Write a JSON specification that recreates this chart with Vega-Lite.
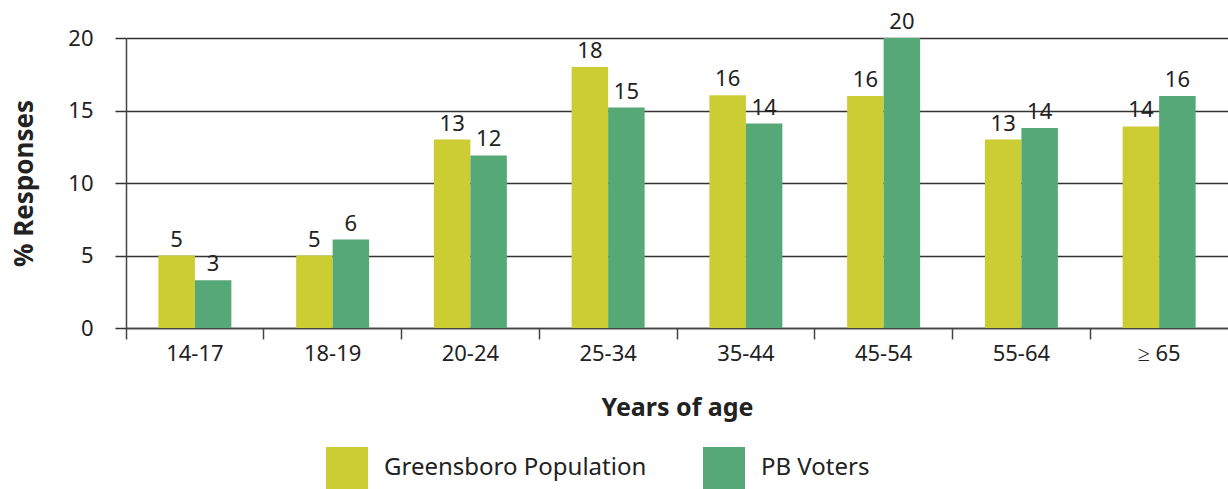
{
  "$schema": "https://vega.github.io/schema/vega-lite/v6.json",
  "autosize": {"type": "none"},
  "padding": {"left": 126, "top": 38, "right": 0, "bottom": 161},
  "width": 1102,
  "height": 290,
  "config": {
    "font": "Noto Sans",
    "view": {"stroke": null}
  },
  "data": {
    "values": [
      {"age": "14-17", "series": "Greensboro Population", "value": 5.0},
      {"age": "14-17", "series": "PB Voters", "value": 3.3},
      {"age": "18-19", "series": "Greensboro Population", "value": 5.0},
      {"age": "18-19", "series": "PB Voters", "value": 6.1},
      {"age": "20-24", "series": "Greensboro Population", "value": 13.0},
      {"age": "20-24", "series": "PB Voters", "value": 11.9},
      {"age": "25-34", "series": "Greensboro Population", "value": 18.0},
      {"age": "25-34", "series": "PB Voters", "value": 15.2},
      {"age": "35-44", "series": "Greensboro Population", "value": 16.05},
      {"age": "35-44", "series": "PB Voters", "value": 14.1},
      {"age": "45-54", "series": "Greensboro Population", "value": 16.0},
      {"age": "45-54", "series": "PB Voters", "value": 20.0},
      {"age": "55-64", "series": "Greensboro Population", "value": 13.0},
      {"age": "55-64", "series": "PB Voters", "value": 13.8},
      {"age": "≥ 65", "series": "Greensboro Population", "value": 13.9},
      {"age": "≥ 65", "series": "PB Voters", "value": 16.0}
    ]
  },
  "encoding": {
    "x": {
      "field": "age",
      "type": "nominal",
      "sort": null,
      "scale": {"paddingInner": 0, "paddingOuter": 0},
      "axis": {
        "title": "Years of age",
        "titleFontSize": 25,
        "titleFontWeight": "bold",
        "titleColor": "#222",
        "titlePadding": 31,
        "labelAngle": 0,
        "labelFontSize": 22,
        "labelColor": "#222",
        "labelPadding": 4,
        "bandPosition": 0,
        "domainColor": "#444",
        "domainWidth": 1.5,
        "tickColor": "#444",
        "tickWidth": 1.5,
        "tickSize": 11,
        "grid": false
      }
    },
    "xOffset": {
      "field": "series",
      "type": "nominal",
      "scale": {"paddingInner": 0, "paddingOuter": 0.887}
    }
  },
  "layer": [
    {
      "mark": {"type": "bar"},
      "encoding": {
        "y": {
          "field": "value",
          "type": "quantitative",
          "scale": {"domain": [0, 20], "nice": false},
          "axis": {
            "title": "% Responses",
            "titleFontSize": 26,
            "titleFontWeight": "bold",
            "titleColor": "#222",
            "titlePadding": 30,
            "values": [0, 5, 10, 15, 20],
            "labelFontSize": 22,
            "labelColor": "#222",
            "labelPadding": 22,
            "domain": true,
            "domainColor": "#444",
            "domainWidth": 1.5,
            "tickColor": "#333",
            "tickWidth": 1.5,
            "tickSize": 11,
            "grid": true,
            "gridColor": "#333",
            "gridWidth": 1.5,
            "gridOpacity": 1
          }
        },
        "color": {
          "field": "series",
          "type": "nominal",
          "scale": {
            "domain": ["Greensboro Population", "PB Voters"],
            "range": ["#cccc33", "#56a877"]
          },
          "legend": {
            "title": null,
            "orient": "none",
            "direction": "horizontal",
            "legendX": 200,
            "legendY": 409,
            "symbolType": "square",
            "symbolSize": 1764,
            "symbolStrokeWidth": 0,
            "symbolOpacity": 1,
            "labelFontSize": 24,
            "labelColor": "#222",
            "labelOffset": 16,
            "labelLimit": 0,
            "columnPadding": 56
          }
        }
      }
    },
    {
      "mark": {"type": "text", "fontSize": 22, "color": "#222", "baseline": "alphabetic", "dy": -9},
      "encoding": {
        "y": {"field": "value", "type": "quantitative"},
        "text": {"field": "value", "type": "quantitative", "format": ".0f"}
      }
    }
  ]
}
